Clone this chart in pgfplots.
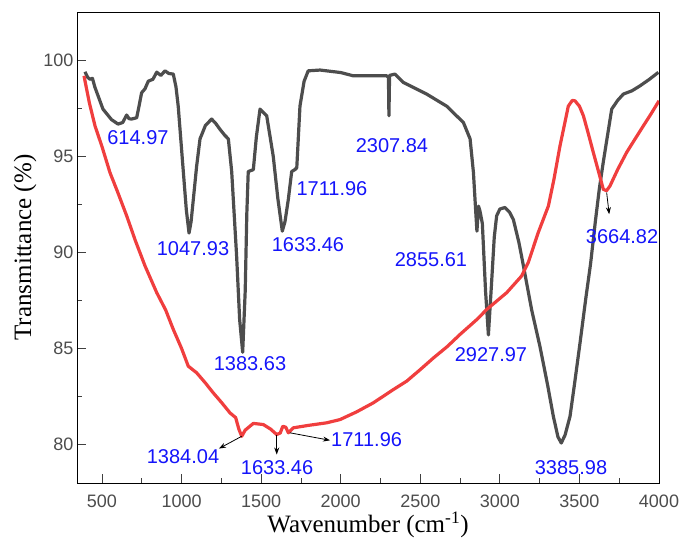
\documentclass[border=0pt]{standalone}
\usepackage{pgfplots}
\pgfplotsset{compat=1.18}
\usepackage{fontspec}
\setmainfont{Liberation Serif}
\newfontfamily\arial{Liberation Sans}
\usetikzlibrary{arrows.meta}
\definecolor{curvegray}{RGB}{77,77,77}
\definecolor{curvered}{RGB}{240,62,62}
\definecolor{annblue}{RGB}{20,20,250}
\begin{document}
\begin{tikzpicture}
\begin{axis}[
  name=ax,
  scale only axis,
  width=582pt, height=471pt,
  xmin=343, xmax=4000, ymin=78, ymax=102.5,
  xtick={500,1000,...,4000}, ytick={80,85,...,100},
  minor x tick num=1, minor y tick num=1,
  tick pos=left, tick align=inside,
  major tick length=9pt, minor tick length=5pt,
  axis line style={line width=0.8pt},
  tick style={line width=0.8pt, color=black!75},
  /pgf/number format/assume math mode=true,
  /pgf/number format/set thousands separator={},
  ticklabel style={font=\arial\fontsize{18}{20}\selectfont, text=black!70},
  xticklabel style={yshift=-8pt},
  xlabel={Wavenumber (cm\textsuperscript{-1})},
  ylabel={Transmittance (\%)},
  xlabel style={font=\fontsize{25}{28}\selectfont, yshift=2pt},
  ylabel style={font=\fontsize{25}{28}\selectfont, yshift=0pt},
]
\addplot[curvegray, line width=3.2pt, line join=round] coordinates {
(393,99.39)(410,99.1)(425,99.0)(440,99.05)(455,98.6)(506,97.45)(560,96.9)(601,96.67)(630,96.75)(655,97.14)(670,96.95)(686,96.93)(718,97.0)(735,97.7)(749,98.3)(770,98.5)(791,98.9)(820,99.0)(844,99.37)(870,99.2)(896,99.44)(920,99.3)(948,99.27)(965,98.6)(979,97.6)(1011,94.2)(1030,92.2)(1047,91.0)(1060,91.6)(1074,92.76)(1095,94.5)(1116,95.9)(1150,96.6)(1189,96.93)(1215,96.7)(1241,96.4)(1270,96.1)(1294,95.9)(1315,94.2)(1346,89.8)(1365,86.5)(1384,84.8)(1400,88)(1410,92)(1419,94.2)(1451,94.3)(1470,96.0)(1493,97.45)(1535,97.1)(1576,95.0)(1605,92.8)(1633,91.1)(1650,91.6)(1671,92.76)(1692,94.2)(1712,94.3)(1724,94.4)(1744,97.6)(1770,98.9)(1796,99.44)(1870,99.48)(2000,99.35)(2079,99.18)(2200,99.18)(2289,99.18)(2300,99.1)(2303,97.1)(2307,99.2)(2341,99.27)(2393,98.84)(2540,98.23)(2666,97.6)(2771,96.75)(2813,95.9)(2834,94.15)(2850,91.9)(2856,91.1)(2866,92.4)(2875,92.15)(2890,91.5)(2910,88)(2928,85.7)(2945,88)(2965,90.8)(2980,91.9)(3000,92.25)(3032,92.33)(3060,92.1)(3085,91.7)(3120,90.5)(3148,89.3)(3200,87)(3252,85.1)(3300,83.1)(3336,81.47)(3365,80.4)(3386,80.08)(3410,80.5)(3441,81.47)(3470,83.2)(3504,85.3)(3540,87.6)(3570,89.4)(3600,91.6)(3625,93.3)(3650,94.7)(3675,96.0)(3703,97.45)(3740,97.9)(3776,98.23)(3830,98.4)(3881,98.66)(3940,99.0)(3996,99.36)
};
\addplot[curvered, line width=3.2pt, line join=round] coordinates {
(387,99.18)(420,97.8)(456,96.58)(500,95.5)(550,94.15)(600,93.1)(655,91.9)(710,90.6)(770,89.3)(844,87.9)(900,87.0)(948,85.99)(1000,85.0)(1042,84.08)(1095,83.73)(1150,83.2)(1199,82.69)(1250,82.2)(1304,81.65)(1340,81.4)(1360,80.8)(1378,80.43)(1400,80.75)(1451,81.1)(1514,81.04)(1560,80.8)(1598,80.52)(1620,80.6)(1636,80.95)(1655,80.9)(1671,80.61)(1702,80.87)(1800,81.0)(1912,81.13)(1996,81.3)(2100,81.7)(2205,82.17)(2331,82.86)(2415,83.3)(2500,83.9)(2582,84.5)(2670,85.1)(2750,85.73)(2855,86.5)(2918,87.03)(3043,87.9)(3137,88.77)(3180,89.5)(3240,91.0)(3305,92.41)(3340,93.8)(3378,95.54)(3410,96.8)(3430,97.6)(3455,97.9)(3472,97.88)(3500,97.6)(3525,97.1)(3555,96.2)(3587,95.2)(3620,94.2)(3650,93.28)(3670,93.2)(3692,93.45)(3740,94.3)(3797,95.2)(3850,95.9)(3902,96.58)(3950,97.2)(4000,97.88)
};
\begin{scope}[every node/.style={font=\arial\fontsize{20}{22}\selectfont, text=annblue, inner sep=0pt}]
\node at (axis cs:726,95.94) {614.97};
\node at (axis cs:1072,90.21) {1047.93};
\node at (axis cs:1945,93.33) {1711.96};
\node at (axis cs:1794,90.42) {1633.46};
\node at (axis cs:2322,95.57) {2307.84};
\node at (axis cs:2567,89.64) {2855.61};
\node at (axis cs:3768,90.83) {3664.82};
\node at (axis cs:1430,84.22) {1383.63};
\node at (axis cs:1009,79.375) {1384.04};
\node at (axis cs:1600,78.8) {1633.46};
\node[anchor=west] at (axis cs:1939,80.26) {1711.96};
\node at (axis cs:2944,84.69) {2927.97};
\node at (axis cs:3447,78.8) {3385.98};
\end{scope}
\begin{scope}[-{Stealth[length=7pt,width=5pt]}, line width=0.8pt, black]
\draw (axis cs:1378,80.43) -- (axis cs:1235,79.79);
\draw (axis cs:1598,80.52) -- (axis cs:1598,79.48);
\draw (axis cs:1681,80.61) -- (axis cs:1933,80.22);
\draw (axis cs:3671,93.11) -- (axis cs:3687,91.98);
\end{scope}
\end{axis}
\path (ax.south west) ++(-77pt,-56pt) rectangle ([xshift=24pt,yshift=12pt]ax.north east);
\end{tikzpicture}
\end{document}
